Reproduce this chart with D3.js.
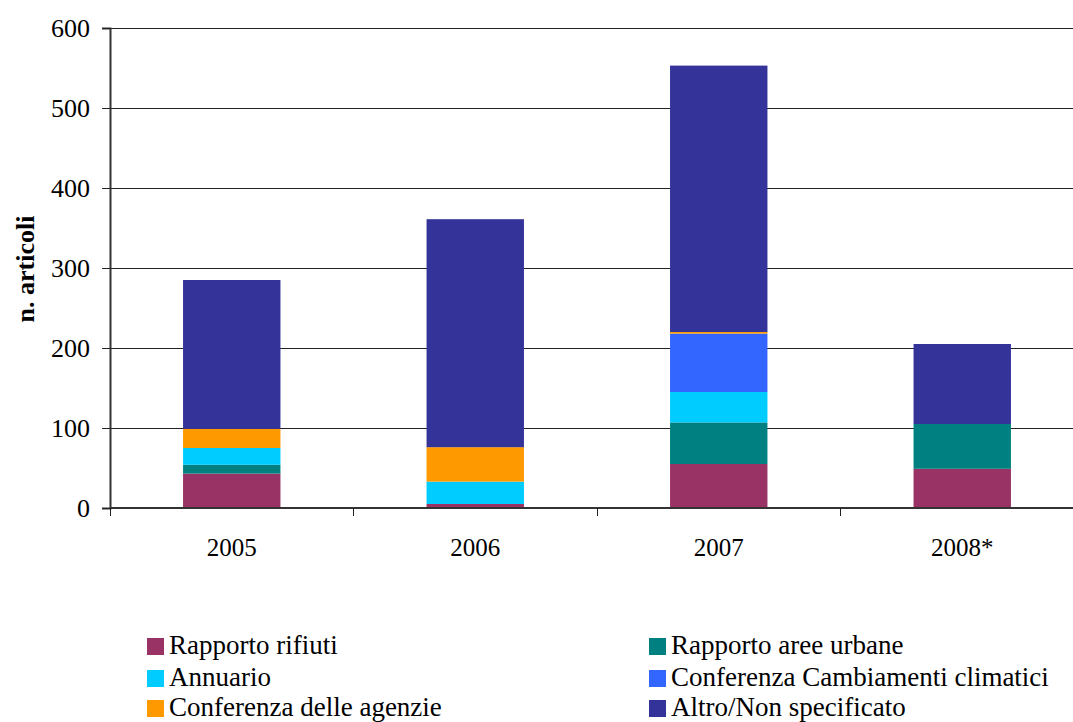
<!DOCTYPE html>
<html>
<head>
<meta charset="utf-8">
<script src="https://cdn.jsdelivr.net/npm/d3@7"></script>
<style>
  html, body { margin: 0; padding: 0; background: #fff; }
  svg { display: block; overflow: hidden; }
  text { font-family: "Liberation Serif", "Times New Roman", serif; fill: #000; }
</style>
</head>
<body>
<svg id="chart" width="1073" height="722"></svg>
<script>
// Articles per year, split by source
const years = ["2005", "2006", "2007", "2008*"];
const rapportoRifiuti = [43, 5, 55, 49];
const rapportoAreeUrbane = [11, 0, 52, 56];
const annuario = [21, 28, 38, 0];
const confClimatici = [0, 0, 73, 0];
const confAgenzie = [24, 43, 2, 0];
const altro = [186, 285, 333, 100];

const yTicks = [0, 100, 200, 300, 400, 500, 600];

const seriesNames = [
  "Rapporto rifiuti",
  "Rapporto aree urbane",
  "Annuario",
  "Conferenza Cambiamenti climatici",
  "Conferenza delle agenzie",
  "Altro/Non specificato"
];
const seriesValues = [rapportoRifiuti, rapportoAreeUrbane, annuario, confClimatici, confAgenzie, altro];
const colors = ["#993366", "#008080", "#00CCFF", "#3366FF", "#FF9900", "#333399"];

// rows for d3.stack
const rows = years.map((yr, i) => {
  const r = { year: yr };
  seriesNames.forEach((n, k) => { r[n] = seriesValues[k][i]; });
  return r;
});

const svg = d3.select("#chart");
const plotLeft = 110, plotRight = 1084, plotTop = 28, plotBottom = 508;

const x = d3.scaleBand().domain(years).range([plotLeft, plotRight]).paddingInner(0.6).paddingOuter(0.3);
const y = d3.scaleLinear().domain([0, 600]).range([plotBottom, plotTop]);
const color = d3.scaleOrdinal().domain(seriesNames).range(colors);

// horizontal gridlines
svg.append("g")
  .attr("shape-rendering", "crispEdges")
  .selectAll("line")
  .data(yTicks.filter(d => d > 0))
  .join("line")
  .attr("x1", plotLeft).attr("x2", plotRight)
  .attr("y1", d => y(d)).attr("y2", d => y(d))
  .attr("stroke", "#222").attr("stroke-width", 1);

// stacked bars
const stacked = d3.stack().keys(seriesNames)(rows);
svg.append("g")
  .selectAll("g")
  .data(stacked)
  .join("g")
  .attr("fill", d => color(d.key))
  .selectAll("rect")
  .data(d => d)
  .join("rect")
  .attr("x", d => x(d.data.year))
  .attr("width", x.bandwidth())
  .attr("y", d => y(d[1]))
  .attr("height", d => y(d[0]) - y(d[1]));

// y axis
const yAxis = svg.append("g")
  .attr("transform", `translate(${plotLeft},0)`)
  .call(d3.axisLeft(y).tickValues(yTicks).tickSize(8).tickPadding(12).tickFormat(d3.format("d")));
yAxis.select(".domain").attr("stroke", "#333").attr("stroke-width", 2);
yAxis.selectAll(".tick line").attr("stroke", "#222").attr("stroke-width", 1).attr("shape-rendering", "crispEdges");
yAxis.selectAll(".tick text")
  .style("font-family", "'Liberation Serif', serif")
  .style("font-size", "26px")
  .attr("dy", "0.34em");

// x axis: ticks sit at category boundaries
const xAxisG = svg.append("g").attr("transform", `translate(0,${plotBottom})`);
xAxisG.append("line")
  .attr("x1", plotLeft).attr("x2", plotRight)
  .attr("stroke", "#333").attr("stroke-width", 2);
const edges = years.map(d => x(d) + x.bandwidth() / 2 - x.step() / 2)
  .concat([x(years[years.length - 1]) + x.bandwidth() / 2 + x.step() / 2]);
xAxisG.selectAll("line.tk")
  .data(edges)
  .join("line")
  .attr("class", "tk")
  .attr("x1", d => d).attr("x2", d => d)
  .attr("y1", 0).attr("y2", 8)
  .attr("stroke", "#222").attr("stroke-width", 1)
  .attr("shape-rendering", "crispEdges");
xAxisG.selectAll("text")
  .data(years)
  .join("text")
  .attr("x", d => x(d) + x.bandwidth() / 2)
  .attr("y", 48)
  .attr("text-anchor", "middle")
  .style("font-size", "25px")
  .text(d => d);

// y axis title
svg.append("text")
  .attr("transform", `translate(34,${(plotTop + plotBottom) / 2 + 1}) rotate(-90)`)
  .attr("text-anchor", "middle")
  .style("font-size", "26px")
  .style("font-weight", "bold")
  .text("n. articoli");

// legend, two columns
const legendOrder = [0, 1, 2, 3, 4, 5];
const legend = svg.append("g");
const colX = [147, 649];
const rowY = [638, 670, 700];
const items = legend.selectAll("g")
  .data(legendOrder)
  .join("g")
  .attr("transform", (d, i) => `translate(${colX[i % 2]},${rowY[Math.floor(i / 2)]})`);
items.append("rect")
  .attr("width", 17).attr("height", 17)
  .attr("fill", d => colors[d]);
items.append("text")
  .attr("x", 22).attr("y", 16)
  .style("font-size", "27px")
  .text(d => seriesNames[d]);
</script>
</body>
</html>
